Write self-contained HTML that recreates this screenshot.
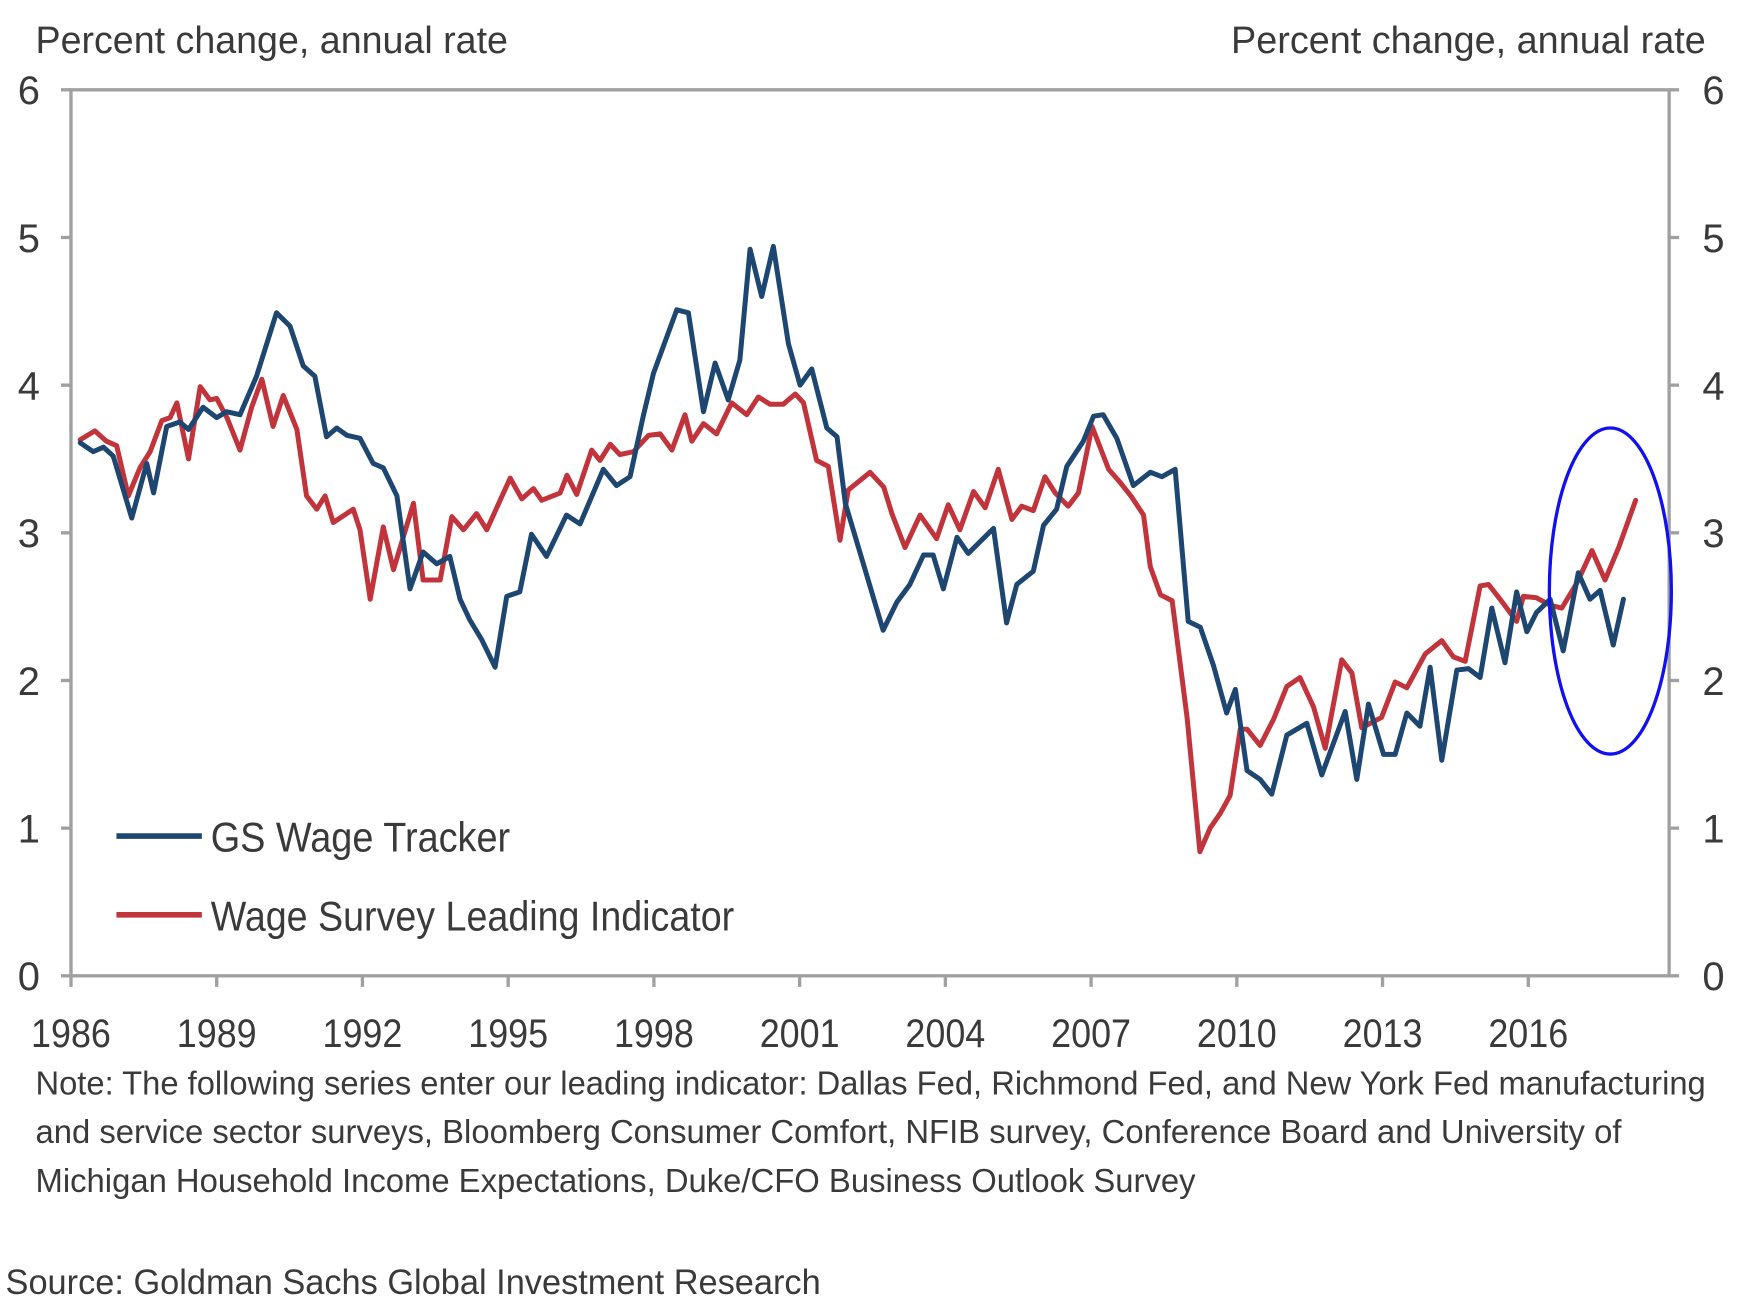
<!DOCTYPE html>
<html><head><meta charset="utf-8">
<style>
html,body{margin:0;padding:0;background:#fff;}
svg{display:block;}
text{font-family:"Liberation Sans",sans-serif;fill:#3a3a3a;}
</style></head>
<body>
<svg id="chart" width="1739" height="1314" viewBox="0 0 1568 1185" preserveAspectRatio="none" xmlns="http://www.w3.org/2000/svg">
  <text x="32" y="48" font-size="34" textLength="426" lengthAdjust="spacingAndGlyphs">Percent change, annual rate</text>
  <text x="1110" y="48" font-size="34" textLength="428" lengthAdjust="spacingAndGlyphs">Percent change, annual rate</text>
  <rect x="64" y="81" width="1441" height="799" fill="none" stroke="#a0a0a0" stroke-width="3"/>
  <g id="axes"></g>
  <g id="series"></g>
  <ellipse cx="1452" cy="533" rx="55" ry="147" fill="none" stroke="#1010f0" stroke-width="3"/>
  <g>
    <line x1="105" y1="754" x2="182" y2="754" stroke="#1d4671" stroke-width="5"/>
    <text x="190" y="768" font-size="38" textLength="270" lengthAdjust="spacingAndGlyphs">GS Wage Tracker</text>
    <line x1="105" y1="825" x2="182" y2="825" stroke="#c2343b" stroke-width="5"/>
    <text x="190" y="839" font-size="38" textLength="472" lengthAdjust="spacingAndGlyphs">Wage Survey Leading Indicator</text>
  </g>
  <g font-size="30">
    <text x="32" y="987" textLength="1506" lengthAdjust="spacingAndGlyphs">Note: The following series enter our leading indicator: Dallas Fed, Richmond Fed, and New York Fed manufacturing</text>
    <text x="32" y="1031" textLength="1430" lengthAdjust="spacingAndGlyphs">and service sector surveys, Bloomberg Consumer Comfort, NFIB survey, Conference Board and University of</text>
    <text x="32" y="1075" textLength="1046" lengthAdjust="spacingAndGlyphs">Michigan Household Income Expectations, Duke/CFO Business Outlook Survey</text>
  </g>
  <text x="5" y="1167" font-size="32" fill="#555" textLength="735" lengthAdjust="spacingAndGlyphs">Source: Goldman Sachs Global Investment Research</text>
</svg>
<script>
const xTickYears = [1986,1989,1992,1995,1998,2001,2004,2007,2010,2013,2016];
const yTickValues = [0,1,2,3,4,5,6];
const gsYears = [1986.19,1986.46,1986.67,1986.87,1987.25,1987.56,1987.70,1987.97,1988.24,1988.42,1988.72,1989.0,1989.2,1989.48,1989.82,1990.23,1990.51,1990.78,1991.02,1991.26,1991.47,1991.68,1991.95,1992.22,1992.43,1992.71,1992.98,1993.25,1993.53,1993.80,1994.01,1994.21,1994.45,1994.73,1994.97,1995.24,1995.48,1995.79,1996.2,1996.48,1996.96,1997.23,1997.51,1997.78,1997.99,1998.47,1998.71,1999.02,1999.26,1999.53,1999.77,1999.98,2000.22,2000.46,2000.77,2001.01,2001.25,2001.56,2001.77,2001.94,2002.72,2003.0,2003.27,2003.55,2003.75,2003.96,2004.24,2004.47,2004.99,2005.26,2005.47,2005.81,2006.02,2006.29,2006.50,2006.84,2007.05,2007.25,2007.53,2007.87,2008.22,2008.46,2008.73,2009.0,2009.25,2009.52,2009.79,2009.97,2010.21,2010.48,2010.72,2011.03,2011.44,2011.75,2012.23,2012.47,2012.71,2013.02,2013.26,2013.50,2013.77,2013.98,2014.22,2014.53,2014.77,2015.01,2015.25,2015.52,2015.76,2015.97,2016.17,2016.45,2016.72,2017.03,2017.27,2017.48,2017.75,2017.96];
const gsValues = [3.61,3.55,3.58,3.52,3.10,3.47,3.27,3.72,3.75,3.70,3.85,3.78,3.82,3.80,4.06,4.49,4.40,4.13,4.06,3.65,3.71,3.66,3.64,3.47,3.44,3.25,2.62,2.87,2.79,2.84,2.55,2.41,2.28,2.09,2.57,2.60,2.99,2.84,3.12,3.06,3.43,3.32,3.38,3.79,4.08,4.51,4.49,3.82,4.15,3.90,4.17,4.92,4.60,4.94,4.28,4.00,4.11,3.71,3.65,3.20,2.34,2.53,2.65,2.85,2.85,2.62,2.97,2.86,3.03,2.39,2.65,2.74,3.05,3.16,3.45,3.62,3.79,3.80,3.64,3.32,3.41,3.38,3.43,2.40,2.36,2.10,1.78,1.94,1.39,1.33,1.23,1.63,1.71,1.36,1.79,1.33,1.84,1.50,1.50,1.78,1.69,2.09,1.46,2.07,2.08,2.02,2.49,2.12,2.60,2.33,2.46,2.55,2.20,2.73,2.55,2.61,2.24,2.55];
const wsYears = [1986.19,1986.49,1986.73,1986.94,1987.18,1987.42,1987.63,1987.87,1988.04,1988.18,1988.42,1988.66,1988.86,1989.0,1989.21,1989.48,1989.72,1989.93,1990.16,1990.37,1990.65,1990.85,1991.06,1991.23,1991.40,1991.81,1991.95,1992.16,1992.43,1992.64,1993.05,1993.25,1993.60,1993.84,1994.08,1994.35,1994.56,1995.04,1995.28,1995.52,1995.69,1996.07,1996.21,1996.41,1996.72,1996.89,1997.10,1997.30,1997.58,1997.89,1998.13,1998.37,1998.64,1998.78,1999.02,1999.29,1999.60,1999.91,2000.15,2000.39,2000.66,2000.91,2001.08,2001.35,2001.59,2001.83,2002.0,2002.45,2002.73,2002.90,2003.17,2003.48,2003.82,2004.06,2004.30,2004.58,2004.82,2005.09,2005.37,2005.57,2005.81,2006.05,2006.26,2006.53,2006.74,2007.02,2007.36,2007.60,2007.84,2008.08,2008.22,2008.43,2008.67,2008.98,2009.24,2009.45,2009.66,2009.86,2010.07,2010.21,2010.48,2010.76,2011.03,2011.30,2011.58,2011.82,2012.16,2012.37,2012.57,2012.98,2013.26,2013.50,2013.88,2014.22,2014.46,2014.70,2015.01,2015.18,2015.42,2015.76,2015.90,2016.17,2016.45,2016.69,2017.00,2017.31,2017.58,2017.86,2018.21];
const wsValues = [3.63,3.69,3.62,3.59,3.25,3.44,3.55,3.76,3.78,3.88,3.50,3.99,3.90,3.91,3.78,3.56,3.85,4.04,3.72,3.93,3.70,3.25,3.16,3.25,3.07,3.16,3.02,2.55,3.04,2.75,3.20,2.68,2.68,3.11,3.02,3.13,3.02,3.37,3.23,3.30,3.22,3.27,3.39,3.26,3.56,3.49,3.60,3.53,3.55,3.66,3.67,3.56,3.80,3.62,3.74,3.67,3.88,3.80,3.92,3.87,3.87,3.94,3.88,3.49,3.45,2.95,3.29,3.41,3.31,3.13,2.90,3.12,2.96,3.19,3.02,3.28,3.17,3.43,3.09,3.18,3.15,3.38,3.27,3.18,3.27,3.72,3.43,3.34,3.24,3.12,2.77,2.58,2.54,1.74,0.84,1.00,1.10,1.22,1.67,1.67,1.56,1.74,1.96,2.02,1.82,1.54,2.14,2.05,1.68,1.75,1.99,1.95,2.18,2.27,2.16,2.13,2.64,2.65,2.55,2.40,2.57,2.56,2.51,2.49,2.66,2.88,2.68,2.90,3.22];

const NS = "http://www.w3.org/2000/svg";
const X0 = 64, X1 = 1505, Y0 = 880, Y1 = 81;
function xScale(yr){ return X0 + (yr - 1986) * 43.8; }
function yScale(v){ return Y0 - (v / 6) * (Y0 - Y1); }
function mk(tag, attrs, parent){
  const e = document.createElementNS(NS, tag);
  for (const k in attrs) e.setAttribute(k, attrs[k]);
  parent.appendChild(e);
  return e;
}
const axes = document.getElementById('axes');
xTickYears.forEach(yr => {
  const x = xScale(yr);
  const t = mk('line', {x1:x, y1:Y0, x2:x, y2:Y0+10, stroke:'#a0a0a0', 'stroke-width':3}, axes);
  
  
  const l = mk('text', {x:x, y:944, 'font-size':36, 'text-anchor':'middle', textLength:72, lengthAdjust:'spacingAndGlyphs'}, axes);
  l.textContent = yr;
  
  
});
yTickValues.forEach(v => {
  const y = yScale(v);
  const t1 = mk('line', {x1:X0-9, y1:y, x2:X0, y2:y, stroke:'#a0a0a0', 'stroke-width':3}, axes);
  
  
  const t2 = mk('line', {x1:X1, y1:y, x2:X1+9, y2:y, stroke:'#a0a0a0', 'stroke-width':3}, axes);
  
  
  const l1 = mk('text', {x:26, y:y+13, 'font-size':36, 'text-anchor':'middle'}, axes);
  l1.textContent = v;
  
  
  const l2 = mk('text', {x:1545, y:y+13, 'font-size':36, 'text-anchor':'middle'}, axes);
  l2.textContent = v;
  
  
});
const series = document.getElementById('series');
function drawLine(xs, vs, color, name){
  const d = xs.map((yr, i) => (i ? 'L' : 'M') + xScale(yr).toFixed(1) + ',' + yScale(vs[i]).toFixed(1)).join(' ');
  const p = mk('path', {d:d, fill:'none', stroke:color, 'stroke-width':4.5, 'stroke-linejoin':'round', 'stroke-linecap':'round'}, series);
  
  
}
drawLine(wsYears, wsValues, '#c2343b', 'wage-survey-leading-indicator-line');
drawLine(gsYears, gsValues, '#1d4671', 'gs-wage-tracker-line');
</script>
</body></html>
